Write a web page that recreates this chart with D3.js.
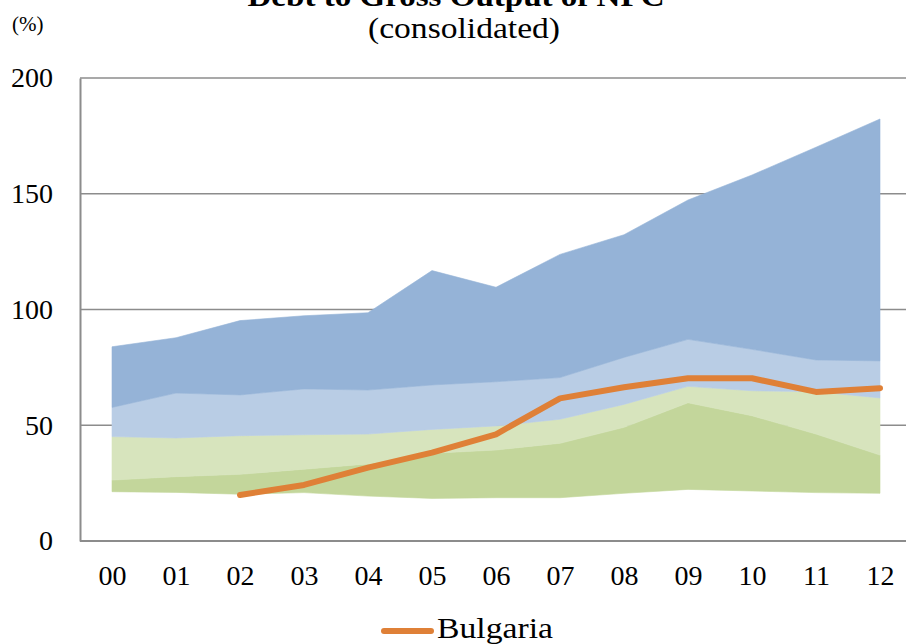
<!DOCTYPE html>
<html>
<head>
<meta charset="utf-8">
<script src="https://cdn.jsdelivr.net/npm/d3@7"></script>
<style>
  body { margin: 0; background: #fff; }
  svg, svg text { font-family: "Liberation Serif", "Times New Roman", serif; }
</style>
</head>
<body>
<svg id="chart" width="906" height="644"></svg>
<script>
// Years on the x axis
const years = ['00', '01', '02', '03', '04', '05', '06', '07', '08', '09', '10', '11', '12'];

// Band boundaries (bottom to top)
const lowest = [21.3, 21.0, 20.2, 20.9, 19.4, 18.4, 18.7, 18.7, 20.6, 22.3, 21.6, 20.9, 20.6];
const lowerQ = [26.3, 27.8, 28.8, 31.0, 33.3, 37.9, 39.3, 42.2, 49.1, 59.7, 54.1, 46.2, 37.1];
const median = [45.1, 44.5, 45.5, 45.9, 46.2, 48.2, 49.7, 52.6, 59.0, 66.8, 64.9, 64.5, 61.8];
const upperQ = [57.7, 63.9, 63.1, 65.7, 65.2, 67.4, 68.8, 70.6, 79.3, 87.1, 82.8, 78.2, 77.8];
const highest = [83.9, 87.8, 95.2, 97.3, 98.6, 116.8, 109.6, 123.8, 132.3, 147.3, 158.1, 170.1, 182.3];

// Bulgaria line
const bulgaria = [null, null, 19.9, 24.2, 31.7, 38.2, 46.1, 61.6, 66.4, 70.3, 70.3, 64.4, 66.0];

const yTicks = [0, 50, 100, 150, 200];

const svg = d3.select('#chart');

let margin = { top: 78, left: 80, bottom: 103 };
let plotRight = 912;
let plotBottom = 644 - margin.bottom;

let xScale = d3.scalePoint()
  .domain(years)
  .range([margin.left + 32, plotRight - 32]);

let yScale = d3.scaleLinear()
  .domain([0, 200])
  .range([plotBottom, margin.top]);

// Gridlines
svg.append('g')
  .selectAll('line')
  .data(yTicks.filter((d) => d > 0))
  .enter().append('line')
  .attr('x1', margin.left)
  .attr('x2', plotRight)
  .attr('y1', (d) => yScale(d))
  .attr('y2', (d) => yScale(d))
  .attr('stroke', '#8c8c8c')
  .attr('stroke-width', 1.3);

// Bands
const bands = [
  { lo: lowest, hi: lowerQ, color: '#c3d69b' },
  { lo: lowerQ, hi: median, color: '#d7e4bd' },
  { lo: median, hi: upperQ, color: '#b9cde5' },
  { lo: upperQ, hi: highest, color: '#95b3d7' },
];

let area = d3.area()
  .x((d) => xScale(d.year))
  .y0((d) => yScale(d.lo))
  .y1((d) => yScale(d.hi));

bands.forEach((b) => {
  let rows = years.map((y, i) => ({ year: y, lo: b.lo[i], hi: b.hi[i] }));
  svg.append('path')
    .datum(rows)
    .attr('d', area)
    .attr('fill', b.color)
    .attr('stroke', b.color)
    .attr('stroke-width', 0.6);
});

// Axes
let yAxis = d3.axisLeft(yScale).tickValues(yTicks).tickSize(0).tickPadding(27);
let gy = svg.append('g')
  .attr('transform', 'translate(' + margin.left + ',0)')
  .call(yAxis);
gy.attr('font-family', null);
gy.select('.domain').attr('stroke', '#8c8c8c').attr('stroke-width', 2);
gy.selectAll('text')
  .attr('font-size', 28)
  .attr('fill', '#000');

let xAxis = d3.axisBottom(xScale).tickSize(0).tickPadding(24);
let gx = svg.append('g')
  .attr('transform', 'translate(0,' + plotBottom + ')')
  .call(xAxis);
gx.attr('font-family', null);
gx.select('.domain')
  .attr('d', 'M' + margin.left + ',0H' + plotRight)
  .attr('stroke', '#8c8c8c')
  .attr('stroke-width', 2);
gx.selectAll('text')
  .attr('font-size', 28)
  .attr('fill', '#000');

// Bulgaria line
let line = d3.line()
  .defined((d) => d.v !== null)
  .x((d) => xScale(d.year))
  .y((d) => yScale(d.v));

svg.append('path')
  .datum(years.map((y, i) => ({ year: y, v: bulgaria[i] })))
  .attr('d', line)
  .attr('fill', 'none')
  .attr('stroke', '#df8037')
  .attr('stroke-width', 6)
  .attr('stroke-linecap', 'round')
  .attr('stroke-linejoin', 'round');

// Titles (the main title is cut off at the top, as in the original)
svg.append('text')
  .attr('x', 456)
  .attr('y', 6)
  .attr('text-anchor', 'middle')
  .attr('font-size', 30)
  .attr('font-weight', 'bold')
  .attr('textLength', 417)
  .attr('lengthAdjust', 'spacingAndGlyphs')
  .text('Debt to Gross Output of NFC');

svg.append('text')
  .attr('x', 464)
  .attr('y', 38)
  .attr('text-anchor', 'middle')
  .attr('font-size', 29)
  .attr('textLength', 192)
  .attr('lengthAdjust', 'spacingAndGlyphs')
  .text('(consolidated)');

svg.append('text')
  .attr('x', 12)
  .attr('y', 31)
  .attr('font-size', 21)
  .text('(%)');

// Legend
svg.append('line')
  .attr('x1', 384)
  .attr('x2', 431)
  .attr('y1', 631)
  .attr('y2', 631)
  .attr('stroke', '#df8037')
  .attr('stroke-width', 6)
  .attr('stroke-linecap', 'round');

svg.append('text')
  .attr('x', 437)
  .attr('y', 638)
  .attr('font-size', 29)
  .attr('textLength', 116)
  .attr('lengthAdjust', 'spacingAndGlyphs')
  .text('Bulgaria');
</script>
</body>
</html>
